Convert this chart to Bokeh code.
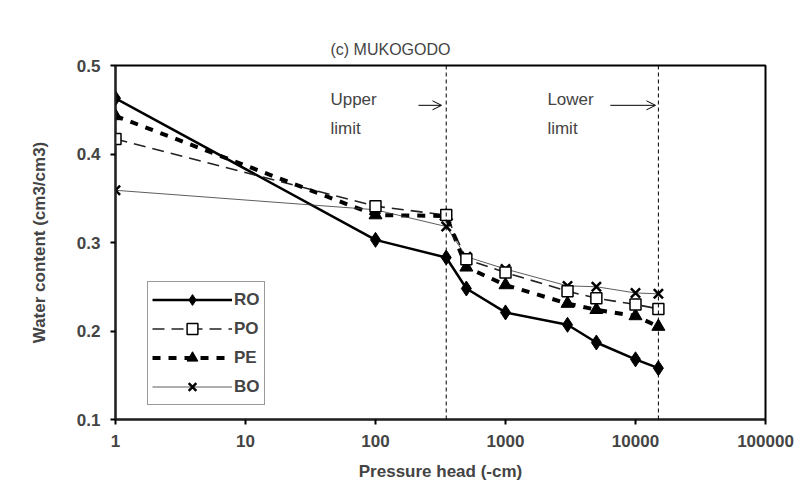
from bokeh.plotting import figure
from bokeh.models import (Span, Arrow, OpenHead, Label, FixedTicker, NumeralTickFormatter,
                          Range1d, Legend)
from bokeh.embed import file_html
from bokeh.resources import INLINE

# ---- data ----
pressure = [1, 100, 350, 500, 1000, 3000, 5000, 10000, 15000]
RO = [0.463, 0.303, 0.283, 0.248, 0.221, 0.207, 0.187, 0.168, 0.158]
PO = [0.417, 0.341, 0.331, 0.281, 0.266, 0.245, 0.237, 0.230, 0.225]
PE = [0.443, 0.331, 0.330, 0.272, 0.252, 0.231, 0.224, 0.217, 0.205]
BO = [0.359, 0.337, 0.318, 0.284, 0.270, 0.251, 0.250, 0.243, 0.242]
x_ticks = [1, 10, 100, 1000, 10000, 100000]
y_ticks = [0.1, 0.2, 0.3, 0.4, 0.5]
upper_limit = 350
lower_limit = 15000

FONT = "Liberation Sans"

p = figure(width=800, height=504, x_axis_type="log", output_backend="svg",
           toolbar_location=None,
           x_range=Range1d(1, 100000), y_range=Range1d(0.1, 0.5),
           min_border_left=115, min_border_right=35, min_border_top=65,
           min_border_bottom=85)

p.title.text = "(c) MUKOGODO"
p.title.align = "left"
p.title.offset = 215
p.title.text_font = FONT
p.title.text_font_size = "16px"
p.title.text_font_style = "normal"
p.title.standoff = 16

p.grid.visible = False
p.outline_line_color = "black"
p.outline_line_width = 2

for ax in (p.xaxis[0], p.yaxis[0]):
    ax.axis_line_width = 2
    ax.axis_line_color = "#222222"
    ax.major_tick_line_width = 2
    ax.major_tick_out = 5
    ax.major_tick_in = 0
    ax.minor_tick_line_color = None
    ax.major_label_text_font = FONT
    ax.major_label_text_font_size = "17px"
    ax.major_label_text_font_style = "bold"
    ax.axis_label_text_font = FONT
    ax.axis_label_text_font_size = "17px"
    ax.axis_label_text_font_style = "bold"

p.xaxis.ticker = FixedTicker(ticks=x_ticks)
p.xaxis.formatter = NumeralTickFormatter(format="0")
p.xaxis.axis_label = "Pressure head (-cm)"
p.xaxis.major_label_standoff = 10
p.xaxis.axis_label_standoff = 12

p.yaxis.ticker = FixedTicker(ticks=y_ticks)
p.yaxis.axis_label = "Water content (cm3/cm3)"
p.yaxis.major_label_standoff = 10
p.yaxis.axis_label_standoff = 25

# limits
for xv in (upper_limit, lower_limit):
    p.add_layout(Span(location=xv, dimension="height", line_color="black",
                      line_width=1, line_dash="4 3"))

r1 = p.line(pressure, RO, line_color="black", line_width=2.5)
r1m = p.scatter(pressure, RO, marker="diamond", size=15, fill_color="black", line_color="black")
r2 = p.line(pressure, PO, line_color="#222222", line_width=1.6, line_dash="12 7")
r3 = p.line(pressure, PE, line_color="black", line_width=4, line_dash="8 8")
r4 = p.line(pressure, BO, line_color="#333333", line_width=0.8)
r4m = p.scatter(pressure, BO, marker="x", size=13, line_color="black", line_width=2.5)
r3m = p.scatter(pressure, PE, marker="triangle", size=13, fill_color="black", line_color="black")
r2m = p.scatter(pressure, PO, marker="square", size=11, fill_color="white", line_color="black",
                line_width=1.5)

legend = Legend(items=[("RO", [r1, r1m]), ("PO", [r2, r2m]), ("PE", [r3, r3m]), ("BO", [r4, r4m])],
                location=(32, 14), glyph_width=80, glyph_height=27, spacing=2,
                label_text_font=FONT, label_text_font_size="17px",
                label_text_font_style="bold", label_standoff=2,
                border_line_color="#333333", border_line_width=1,
                padding=4, margin=0)
p.add_layout(legend, "center")

# annotations
ann_y = 0.455
p.add_layout(Label(x=45, y=ann_y, text="Upper\nlimit", text_font=FONT, text_font_size="17px",
                   text_baseline="top", y_offset=15, text_line_height=1.5))
p.add_layout(Label(x=2100, y=ann_y, text="Lower\nlimit", text_font=FONT, text_font_size="17px",
                   text_baseline="top", y_offset=15, text_line_height=1.5))
p.add_layout(Arrow(x_start=214, y_start=ann_y, x_end=322, y_end=ann_y, line_width=1,
                   end=OpenHead(size=9, line_width=1)))
p.add_layout(Arrow(x_start=6400, y_start=ann_y, x_end=14250, y_end=ann_y, line_width=1,
                   end=OpenHead(size=9, line_width=1)))

open("out.html", "w").write(file_html(p, INLINE))
